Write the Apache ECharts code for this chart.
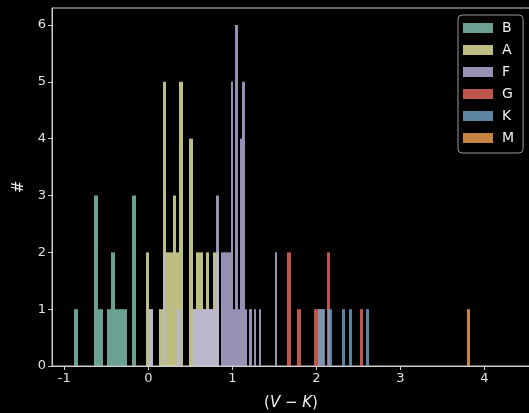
<!DOCTYPE html>
<html><head><meta charset="utf-8">
<script src="https://cdn.jsdelivr.net/npm/echarts@6/dist/echarts.min.js"></script>
<style>html,body{margin:0;padding:0;background:#000;}#c{width:529px;height:413px;}</style>
</head><body><div id="c"></div>
<script>
// Histogram data per spectral type: first bin left edge, bin width, counts per bin
const types = ['B', 'A', 'F', 'G', 'K', 'M'];

const B_start = -0.890, B_width = 0.0494;
const B_counts = [1,0,0,0,0,3,1,0,1,2,1,1,1,0,3];

const A_start = -0.0274, A_width = 0.0396;
const A_counts = [2,1,0,0,1,5,2,2,3,2,5,0,0,4,1,2,2,1,2,1,2,2];

const F_start = 0.003, F_width = 0.0279;
const F_counts = [1,1,0,0,0,0,2,0,0,0,0,0,1,1,0,0,0,0,0,1,1,1,1,1,1,1,1,1,1,3,0,2,2,2,2,5,1,6,1,4,5,1,0,1,0,1,0,1,0,0,0,0,0,0,2];

const G_start = 1.655, G_width = 0.0393;
const G_counts = [2,0,0,1,0,0,0,0,1,1,1,0,2,0,0,0,0,0,0,0,0,0,1];

const K_start = 1.981, K_width = 0.0405;
const K_counts = [0,1,1,0,1,0,0,0,1,0,1,0,0,0,0,1];

const M_start = 3.798, M_width = 0.032;
const M_counts = [1];

const xTicks = [-1, 0, 1, 2, 3, 4];
const yTicks = [0, 1, 2, 3, 4, 5, 6];

const hist = {
  B: [B_start, B_width, B_counts], A: [A_start, A_width, A_counts],
  F: [F_start, F_width, F_counts], G: [G_start, G_width, G_counts],
  K: [K_start, K_width, K_counts], M: [M_start, M_width, M_counts]
};
const colors = {
  B: 'rgba(134,200,182,0.8)', A: 'rgba(238,238,162,0.8)', F: 'rgba(186,182,224,0.8)',
  G: 'rgba(236,108,94,0.8)', K: 'rgba(114,164,202,0.8)', M: 'rgba(248,164,82,0.8)'
};

function toBins(start, width, counts) {
  const out = [];
  counts.forEach((c, k) => { if (c > 0) out.push([start + k * width, start + (k + 1) * width, c]); });
  return out;
}

function renderItem(params, api) {
  const p0 = api.coord([api.value(0), api.value(2)]);
  const p1 = api.coord([api.value(1), 0]);
  const x0 = Math.round(p0[0]);
  const x1 = Math.max(x0 + 1, Math.round(p1[0]));
  return { type: 'rect', shape: { x: x0, y: p0[1], width: x1 - x0, height: p1[1] - p0[1] }, style: api.style() };
}

const font = 'DejaVu Sans';
const chart = echarts.init(document.getElementById('c'), null, { renderer: 'canvas' });
chart.setOption({
  backgroundColor: '#000',
  animation: false,
  textStyle: { fontFamily: font },
  grid: { left: 52, top: 8, right: -1, bottom: 47, show: true, borderColor: '#cfcfcf', borderWidth: 1,
    backgroundColor: 'transparent', containLabel: false, outerBoundsMode: 'none' },
  legend: {
    orient: 'vertical', left: 458, top: 15,
    data: types, icon: 'rect', itemWidth: 30, itemHeight: 10, itemGap: 8,
    padding: [6, 9, 8, 5],
    borderColor: '#999', borderWidth: 1, borderRadius: 4, backgroundColor: 'rgba(0,0,0,0.8)',
    textStyle: { color: '#f0f0f0', fontSize: 14, lineHeight: 14, fontFamily: font, padding: [0, 0, 0, 4] },
    selectedMode: false
  },
  xAxis: {
    type: 'value', min: -1.146, max: 4.544,
    axisLine: { show: true, onZero: false, lineStyle: { color: '#cfcfcf', width: 1 } },
    axisTick: { show: true, length: 4, lineStyle: { color: '#cfcfcf' }, customValues: xTicks },
    axisLabel: { color: '#e0e0e0', fontSize: 13, margin: 6, fontFamily: font, customValues: xTicks, formatter: v => String(v) },
    splitLine: { show: false },
    name: '{p|(}{i|V}{p| − }{i|K}{p|)}', nameLocation: 'middle', nameGap: 30,
    nameTextStyle: { color: '#f0f0f0', fontSize: 15, fontFamily: font,
      rich: { p: { fontSize: 15, color: '#f0f0f0', fontFamily: font }, i: { fontSize: 15, color: '#f0f0f0', fontStyle: 'italic', fontFamily: font } } }
  },
  yAxis: {
    type: 'value', min: 0, max: 6.3,
    axisLine: { show: true, onZero: false, lineStyle: { color: '#cfcfcf', width: 1 } },
    axisTick: { show: true, length: 4, lineStyle: { color: '#cfcfcf' }, customValues: yTicks },
    axisLabel: { color: '#e0e0e0', fontSize: 13, margin: 6, fontFamily: font, customValues: yTicks },
    splitLine: { show: false },
    name: '#', nameLocation: 'middle', nameGap: 25, nameRotate: 90,
    nameTextStyle: { color: '#f0f0f0', fontSize: 15, fontFamily: font }
  },
  series: types.map(t => ({
    name: t, type: 'custom', renderItem,
    itemStyle: { color: colors[t] },
    encode: { x: [0, 1], y: 2 },
    data: toBins(...hist[t])
  }))
});
</script></body></html>
